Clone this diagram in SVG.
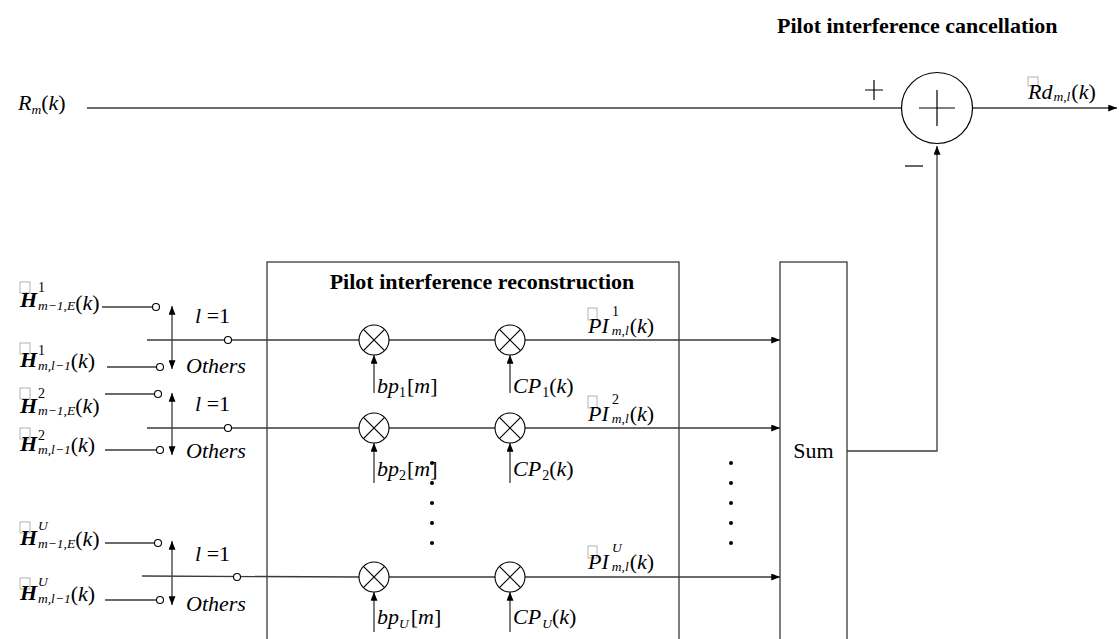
<svg xmlns="http://www.w3.org/2000/svg" width="1119" height="639" viewBox="0 0 1119 639" font-family="'Liberation Serif', serif">
<style>
.ln{stroke:#3a3a3a;stroke-width:1.3;fill:none}
.bk{stroke:#000;stroke-width:1.2;fill:none}
.wc{stroke:#000;stroke-width:1.1;fill:#fff}
.tofu{fill:none;stroke:#a0a0a0;stroke-width:0.8}
.t{font-family:'Liberation Serif',serif;fill:#000}
.m{font-family:'Liberation Serif',serif;font-style:italic;font-size:22px}
.hb{font-family:'Liberation Serif',serif;font-weight:bold;font-style:italic;font-size:22px}
.up{font-style:normal}
.sb{font-family:'Liberation Serif',serif;font-style:italic;font-size:13.5px}
.sp{font-family:'Liberation Serif',serif;font-style:normal;font-size:14px}
.title{font-family:'Liberation Serif',serif;font-weight:bold;font-size:22px}
.dot{fill:#000}
</style>
<defs>
<marker id="arr" viewBox="0 0 10 8" refX="10" refY="4" markerWidth="9" markerHeight="7" markerUnits="userSpaceOnUse" orient="auto-start-reverse">
<path d="M0,0 L10,4 L0,8 z" fill="#000"/>
</marker>
<g id="mult">
<circle r="15" class="wc"/>
<path d="M-10.6,-10.6 L10.6,10.6 M-10.6,10.6 L10.6,-10.6" class="bk"/>
</g>
</defs>
<rect width="1119" height="639" fill="#fff"/>

<g id="connectors">
<path class="ln" d="M87,108 H902"/>
<path class="ln" d="M973,108 H1117" marker-end="url(#arr)"/>
<path class="ln" d="M847,451 H937 V146" marker-end="url(#arr)"/>
<path class="ln" d="M147,340 H359"/>
<path class="ln" d="M389,340 H495"/>
<path class="ln" d="M525,340 H780" marker-end="url(#arr)"/>
<path class="ln" d="M374,393 V355" marker-end="url(#arr)"/>
<path class="ln" d="M510,393 V355" marker-end="url(#arr)"/>
<path class="ln" d="M102,307 H152.5"/>
<path class="ln" d="M107,367 H156.5"/>
<path class="ln" d="M172,306 V369" marker-start="url(#arr)" marker-end="url(#arr)"/>
<path class="ln" d="M147,428 H359"/>
<path class="ln" d="M389,428 H495"/>
<path class="ln" d="M525,428 H780" marker-end="url(#arr)"/>
<path class="ln" d="M374,483 V443" marker-end="url(#arr)"/>
<path class="ln" d="M510,483 V443" marker-end="url(#arr)"/>
<path class="ln" d="M105,394 H154.5"/>
<path class="ln" d="M105,450 H156.5"/>
<path class="ln" d="M172,393 V455" marker-start="url(#arr)" marker-end="url(#arr)"/>
<path class="ln" d="M142,576 L359,577"/>
<path class="ln" d="M389,577 H495"/>
<path class="ln" d="M525,577 H780" marker-end="url(#arr)"/>
<path class="ln" d="M374,632 V592" marker-end="url(#arr)"/>
<path class="ln" d="M510,632 V592" marker-end="url(#arr)"/>
<path class="ln" d="M105,543 H154.5"/>
<path class="ln" d="M105,600 H156.5"/>
<path class="ln" d="M172,541 V605" marker-start="url(#arr)" marker-end="url(#arr)"/>
</g>

<g id="input">
<text class="m" x="18" y="110">R<tspan class="sb" dy="4">m</tspan><tspan class="up" dy="-4">(</tspan>k<tspan class="up">)</tspan></text>
</g>

<g id="cancellation">
<text class="title" x="777" y="33">Pilot interference cancellation</text>
<circle cx="937" cy="108" r="35.5" class="bk"/>
<path class="bk" d="M919,108 H955 M937,90 V126"/>
<path class="bk" stroke-width="1" d="M865,90 H883 M874,80 V100"/>
<path class="bk" stroke-width="1" d="M905,166 H923"/>
<rect class="tofu" x="1028" y="77" width="10" height="9"/>
<text class="m" x="1028" y="99">Rd<tspan class="sb" dx="1" dy="2">m,l</tspan><tspan class="up" dx="1" dy="-2">(</tspan>k<tspan class="up">)</tspan></text>
</g>

<g id="recon">
<rect x="267" y="262" width="412" height="400" class="ln"/>
<text class="title" x="482" y="289" text-anchor="middle">Pilot interference reconstruction</text>
<use href="#mult" x="374" y="340"/>
<use href="#mult" x="510" y="340"/>
<use href="#mult" x="374" y="428"/>
<use href="#mult" x="510" y="428"/>
<use href="#mult" x="374" y="577"/>
<use href="#mult" x="510" y="577"/>
<text class="m" x="377" y="393">bp<tspan class="sp" dy="4">1</tspan><tspan class="up" dx="1" dy="-4">[</tspan>m<tspan class="up">]</tspan></text>
<text class="m" x="513" y="393">CP<tspan class="sp" dx="1" dy="4">1</tspan><tspan class="up" dy="-4">(</tspan>k<tspan class="up">)</tspan></text>
<text class="m" x="377" y="476">bp<tspan class="sp" dy="4">2</tspan><tspan class="up" dx="1" dy="-4">[</tspan>m<tspan class="up">]</tspan></text>
<text class="m" x="513" y="476">CP<tspan class="sp" dx="1" dy="4">2</tspan><tspan class="up" dy="-4">(</tspan>k<tspan class="up">)</tspan></text>
<text class="m" x="377" y="624">bp<tspan class="sb" dy="4">U</tspan><tspan class="up" dx="2" dy="-4">[</tspan>m<tspan class="up">]</tspan></text>
<text class="m" x="513" y="624">CP<tspan class="sb" dx="1" dy="4">U</tspan><tspan class="up" dy="-4">(</tspan>k<tspan class="up">)</tspan></text>
<rect class="tofu" x="588" y="308" width="9" height="12"/>
<text class="sp" x="612" y="316">1</text>
<text class="m" x="588" y="333">PI<tspan class="sb" dx="3" dy="2">m,l</tspan><tspan class="up" dx="1" dy="-2">(</tspan>k<tspan class="up">)</tspan></text>
<rect class="tofu" x="588" y="396" width="9" height="12"/>
<text class="sp" x="612" y="404">2</text>
<text class="m" x="588" y="421">PI<tspan class="sb" dx="3" dy="2">m,l</tspan><tspan class="up" dx="1" dy="-2">(</tspan>k<tspan class="up">)</tspan></text>
<rect class="tofu" x="588" y="546" width="9" height="12"/>
<text class="sb" x="612" y="552">U</text>
<text class="m" x="588" y="569">PI<tspan class="sb" dx="3" dy="2">m,l</tspan><tspan class="up" dx="1" dy="-2">(</tspan>k<tspan class="up">)</tspan></text>
<circle class="dot" cx="432" cy="463" r="2"/>
<circle class="dot" cx="432" cy="483" r="2"/>
<circle class="dot" cx="432" cy="503" r="2"/>
<circle class="dot" cx="432" cy="523" r="2"/>
<circle class="dot" cx="432" cy="543" r="2"/>
</g>

<g id="sum">
<rect x="780" y="262" width="67" height="400" class="ln"/>
<text class="t" x="813.5" y="458" text-anchor="middle" font-size="22">Sum</text>
<circle class="dot" cx="731" cy="463" r="2"/>
<circle class="dot" cx="731" cy="483" r="2"/>
<circle class="dot" cx="731" cy="503" r="2"/>
<circle class="dot" cx="731" cy="523" r="2"/>
<circle class="dot" cx="731" cy="543" r="2"/>
</g>

<g id="row1">
<rect class="tofu" x="20" y="282" width="10" height="11"/>
<text class="hb" x="20" y="307">H</text>
<text class="sp" x="38" y="292">1</text>
<text class="sb" x="38" y="310">m−1,E<tspan class="m"><tspan class="up">(</tspan>k<tspan class="up">)</tspan></tspan></text>
<rect class="tofu" x="20" y="343" width="10" height="11"/>
<text class="hb" x="20" y="367">H</text>
<text class="sp" x="38" y="355">1</text>
<text class="sb" x="38" y="370">m,l−1<tspan class="m" dy="-2"><tspan class="up">(</tspan>k<tspan class="up">)</tspan></tspan></text>
<circle cx="156" cy="307" r="3.5" class="wc"/>
<circle cx="160" cy="367" r="3.5" class="wc"/>
<circle cx="228" cy="340" r="3.5" class="wc"/>
<text class="m" x="195" y="323">l<tspan class="up"> =1</tspan></text>
<text class="m" x="186" y="373">Others</text>
</g>

<g id="row2">
<rect class="tofu" x="20" y="388" width="10" height="11"/>
<text class="hb" x="20" y="413">H</text>
<text class="sp" x="38" y="398">2</text>
<text class="sb" x="38" y="415">m−1,E<tspan class="m" dy="-2"><tspan class="up">(</tspan>k<tspan class="up">)</tspan></tspan></text>
<rect class="tofu" x="20" y="428" width="10" height="11"/>
<text class="hb" x="20" y="451">H</text>
<text class="sp" x="38" y="440">2</text>
<text class="sb" x="38" y="454">m,l−1<tspan class="m" dy="-2"><tspan class="up">(</tspan>k<tspan class="up">)</tspan></tspan></text>
<circle cx="158" cy="394" r="3.5" class="wc"/>
<circle cx="160" cy="450" r="3.5" class="wc"/>
<circle cx="228" cy="428" r="3.5" class="wc"/>
<text class="m" x="195" y="411">l<tspan class="up"> =1</tspan></text>
<text class="m" x="186" y="458">Others</text>
</g>

<g id="rowU">
<rect class="tofu" x="20" y="522" width="10" height="11"/>
<text class="hb" x="20" y="545">H</text>
<text class="sb" x="38" y="530">U</text>
<text class="sb" x="38" y="548">m−1,E<tspan class="m" dy="-2"><tspan class="up">(</tspan>k<tspan class="up">)</tspan></tspan></text>
<rect class="tofu" x="20" y="578" width="10" height="11"/>
<text class="hb" x="20" y="600">H</text>
<text class="sb" x="38" y="586">U</text>
<text class="sb" x="38" y="603">m,l−1<tspan class="m" dy="-2"><tspan class="up">(</tspan>k<tspan class="up">)</tspan></tspan></text>
<circle cx="158" cy="543" r="3.5" class="wc"/>
<circle cx="160" cy="600" r="3.5" class="wc"/>
<circle cx="237" cy="577" r="3.5" class="wc"/>
<text class="m" x="195" y="561">l<tspan class="up"> =1</tspan></text>
<text class="m" x="186" y="611">Others</text>
</g>
</svg>
